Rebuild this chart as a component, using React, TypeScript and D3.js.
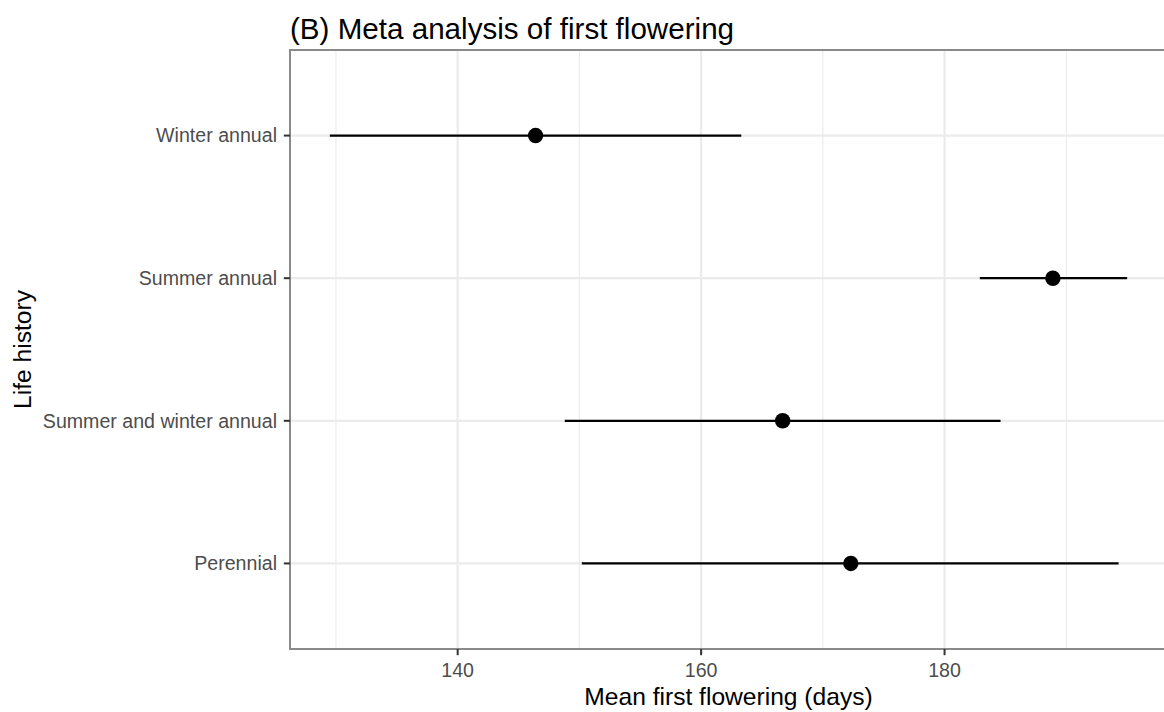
import React from "react";
import * as d3 from "d3";

const categories = ["Perennial", "Summer and winter annual", "Summer annual", "Winter annual"];
const means = [172.3, 166.7, 188.9, 146.4];
const lower = [150.2, 148.8, 182.9, 129.5];
const upper = [194.3, 184.6, 195.0, 163.3];
const xTicks = [140, 160, 180];
const xMinorTicks = [130, 150, 170, 190];

const W = 1164;
const H = 712;
const panel = { left: 290, top: 50, right: 1167, bottom: 649 };
const FONT = "'Liberation Sans', Arial, Helvetica, sans-serif";

export default function App() {
  const lo = d3.min(lower) as number;
  const hi = d3.max(upper) as number;
  const pad = (hi - lo) * 0.05;
  const x = d3.scaleLinear().domain([lo - pad, hi + pad]).range([panel.left, panel.right]);
  const y = d3
    .scalePoint<string>()
    .domain([...categories].reverse())
    .range([panel.top, panel.bottom])
    .padding(0.6);

  const rows = categories.map((c, i) => ({ c, m: means[i], l: lower[i], u: upper[i] }));

  return (
    <svg
      width={W}
      height={H}
      style={{ position: "absolute", left: 0, top: 0, background: "#fff" }}
      fontFamily={FONT}
    >
      <rect x={0} y={0} width={W} height={H} fill="#fff" />
      {/* minor grid */}
      {xMinorTicks.map((t) => (
        <line key={"mn" + t} x1={x(t)} x2={x(t)} y1={panel.top} y2={panel.bottom} stroke="#EBEBEB" strokeWidth={1.1} />
      ))}
      {/* major grid */}
      {xTicks.map((t) => (
        <line key={"mj" + t} x1={x(t)} x2={x(t)} y1={panel.top} y2={panel.bottom} stroke="#EBEBEB" strokeWidth={2.2} />
      ))}
      {categories.map((c) => (
        <line key={"gy" + c} x1={panel.left} x2={panel.right} y1={y(c)} y2={y(c)} stroke="#EBEBEB" strokeWidth={2.2} />
      ))}
      {/* error bars and points */}
      {rows.map((r) => (
        <g key={"r" + r.c}>
          <line x1={x(r.l)} x2={x(r.u)} y1={y(r.c)} y2={y(r.c)} stroke="#000" strokeWidth={2.2} />
          <circle cx={x(r.m)} cy={y(r.c)} r={7.7} fill="#000" />
        </g>
      ))}
      {/* panel border */}
      <rect
        x={panel.left}
        y={panel.top}
        width={panel.right - panel.left}
        height={panel.bottom - panel.top}
        fill="none"
        stroke="#8a8a8a"
        strokeWidth={2}
      />
      {/* y axis ticks and labels */}
      {categories.map((c) => (
        <g key={"yt" + c}>
          <line x1={panel.left - 6.2} x2={panel.left} y1={y(c)} y2={y(c)} stroke="#333" strokeWidth={2} />
          <text x={panel.left - 13} y={y(c)} dy="0.35em" textAnchor="end" fontSize={19.6} fill="#4D4D4D">
            {c}
          </text>
        </g>
      ))}
      {/* x axis ticks and labels */}
      {xTicks.map((t) => (
        <g key={"xt" + t}>
          <line x1={x(t)} x2={x(t)} y1={panel.bottom} y2={panel.bottom + 6.2} stroke="#333" strokeWidth={2} />
          <text x={x(t)} y={676.5} textAnchor="middle" fontSize={19.6} fill="#4D4D4D">
            {t}
          </text>
        </g>
      ))}
      {/* axis titles */}
      <text x={728.5} y={705} textAnchor="middle" fontSize={24.6} fill="#000">
        Mean first flowering (days)
      </text>
      <text
        transform={`translate(31, ${(panel.top + panel.bottom) / 2}) rotate(-90)`}
        textAnchor="middle"
        fontSize={24.6}
        fill="#000"
      >
        Life history
      </text>
      <text x={panel.left} y={39} fontSize={29.6} fill="#000">
        (B) Meta analysis of first flowering
      </text>
    </svg>
  );
}
